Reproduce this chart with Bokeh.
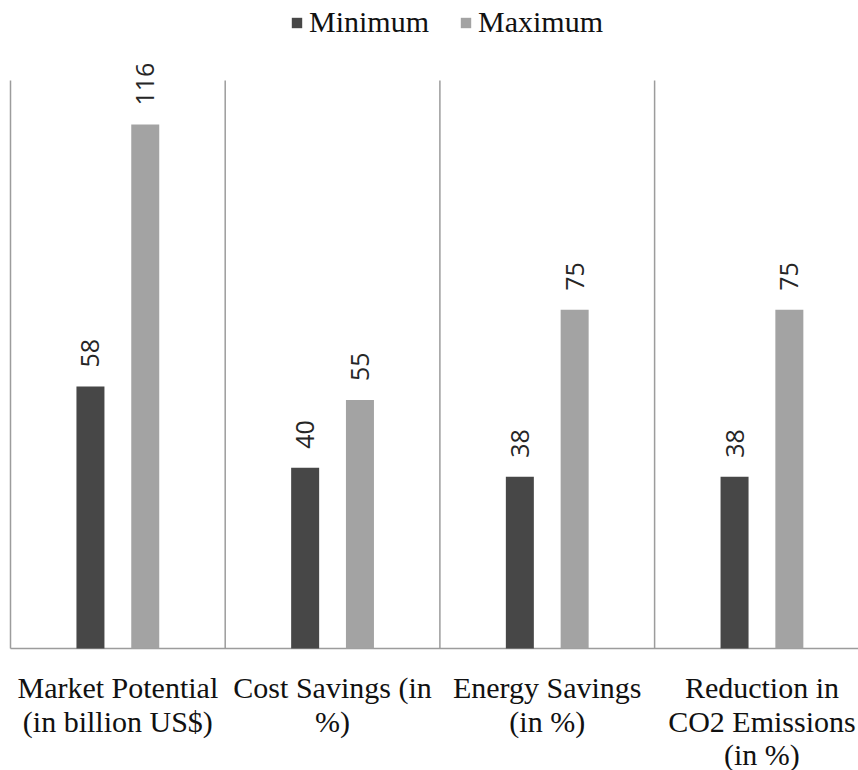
from math import pi
from bokeh.plotting import figure
from bokeh.models import (ColumnDataSource, Legend, LegendItem, Range1d, LabelSet)
from bokeh.core.properties import value
from bokeh.transform import dodge
from bokeh.embed import file_html
from bokeh.resources import INLINE

# ---- data ----
categories = ["Market Potential (in billion US$)",
              "Cost Savings (in %)",
              "Energy Savings (in %)",
              "Reduction in CO2 Emissions (in %)"]
label_line1 = ["Market Potential", "Cost Savings (in", "Energy Savings", "Reduction in"]
label_line2 = ["(in billion US$)", "%)", "(in %)", "CO2 Emissions"]
label_line3 = ["", "", "", "(in %)"]
minimum = [58, 40, 38, 38]
maximum = [116, 55, 75, 75]
series_names = ["Minimum", "Maximum"]

# ---- layout constants (pixels) ----
FIG_W, FIG_H = 858, 770
X0_PX = 10              # left edge of first category band
CAT_PX = 214.7          # width of one category band
BASE_PX = 648           # baseline
TOP_PX = 80             # top of separators
Y_PX = 4.517            # pixels per value unit

n = len(categories)
centers = [i + 0.5 for i in range(n)]
src = ColumnDataSource(dict(
    x=centers,
    minimum=minimum,
    maximum=maximum,
    min_lbl=[str(v) for v in minimum],
    max_lbl=[str(v) for v in maximum],
    l1=label_line1, l2=label_line2, l3=label_line3,
    zero=[0] * n,
))

p = figure(width=FIG_W, height=FIG_H, output_backend="svg", toolbar_location=None,
           x_range=Range1d(-X0_PX / CAT_PX, (FIG_W - X0_PX) / CAT_PX),
           y_range=Range1d(-(FIG_H - BASE_PX) / Y_PX, BASE_PX / Y_PX),
           min_border=0)
p.outline_line_color = None
p.xaxis.visible = False
p.yaxis.visible = False
p.xgrid.visible = False
p.ygrid.visible = False

top_val = (BASE_PX - TOP_PX) / Y_PX
bounds = list(range(n + 1))
sep = ColumnDataSource(dict(x=bounds, y0=[0] * len(bounds), y1=[top_val] * len(bounds)))
p.segment(x0="x", y0="y0", x1="x", y1="y1", source=sep,
          line_color="#9c9c9c", line_width=1.5)
p.segment(x0=[0], y0=[0], x1=[n], y1=[0], line_color="#9c9c9c", line_width=1.5)

OFF = 27.4 / CAT_PX
BW = 28 / CAT_PX
r_min = p.vbar(x=dodge("x", -OFF), top="minimum", width=BW, source=src,
               fill_color="#474747", line_color=None)
r_max = p.vbar(x=dodge("x", OFF), top="maximum", width=BW, source=src,
               fill_color="#a3a3a3", line_color=None)

# value labels (rotated)
GAP = 19 / Y_PX
for fld, lbl, off in (("minimum", "min_lbl", -OFF), ("maximum", "max_lbl", OFF)):
    p.add_layout(LabelSet(x=dodge("x", off), y=dodge(fld, GAP), text=lbl, source=src,
                          angle=pi / 2, text_align="left", text_baseline="middle",
                          text_font=value("Open Sans"), text_font_size="25px",
                          text_color="#262626"))

# category labels, one LabelSet per line so every line is centred
for col, base_px in (("l1", 697), ("l2", 731), ("l3", 764)):
    p.add_layout(LabelSet(x="x", y=dodge("zero", -(base_px - BASE_PX) / Y_PX),
                          text=col, source=src,
                          text_align="center", text_baseline="alphabetic",
                          text_font=value("Liberation Serif"), text_font_size="30px",
                          text_color="#111111"))

legend = Legend(items=[LegendItem(label=series_names[0], renderers=[r_min]),
                       LegendItem(label=series_names[1], renderers=[r_max])],
                orientation="horizontal", location=(290, 731),
                label_text_font="Liberation Serif", label_text_font_size="30px",
                label_text_color="#111111",
                glyph_width=13, glyph_height=13, label_standoff=6, spacing=30,
                padding=0, margin=0, border_line_color=None,
                background_fill_alpha=0)
p.add_layout(legend, "center")

open("out.html", "w").write(file_html(p, INLINE))
